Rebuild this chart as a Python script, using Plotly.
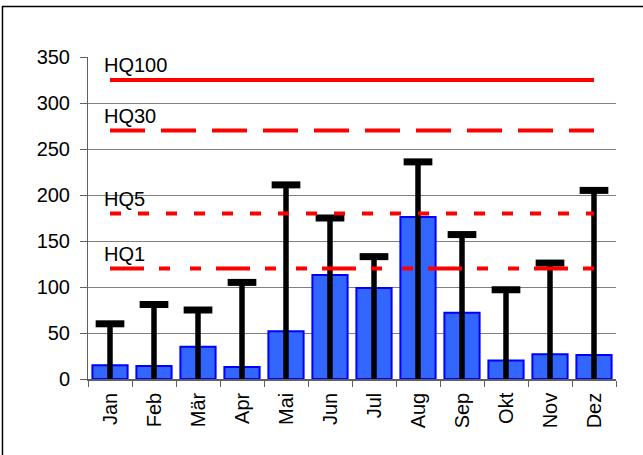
import plotly.graph_objects as go

months = ["Jan", "Feb", "Mär", "Apr", "Mai", "Jun", "Jul", "Aug", "Sep", "Okt", "Nov", "Dez"]
mean_values = [15, 14, 35, 13, 52, 113, 99, 176, 72, 20, 27, 26]
max_values = [60, 81, 75, 105, 211, 175, 133, 236, 157, 97, 126, 205]
hq_labels = ["HQ100", "HQ30", "HQ5", "HQ1"]
hq_values = [325, 270, 180, 120]
hq_dashes = ["solid", "35px,16px", "11px,17px", "34px,15px,11px,20px,11px,15px"]

FONT = "Liberation Sans, Arial, sans-serif"

fig = go.Figure()

fig.add_trace(go.Bar(
    x=months, y=mean_values,
    marker=dict(color="#3366FF", line=dict(color="#0000FF", width=2)),
    error_y=dict(type="data", symmetric=False,
                 array=[m - v for m, v in zip(max_values, mean_values)],
                 arrayminus=mean_values,
                 width=0, thickness=5.5, color="black"),
    showlegend=False,
))

fig.add_trace(go.Scatter(
    x=months, y=max_values, mode="markers",
    marker=dict(symbol="line-ew", size=20.5, line=dict(color="black", width=7)),
    showlegend=False, hoverinfo="skip",
))

for lab, val, dash in zip(hq_labels, hq_values, hq_dashes):
    fig.add_trace(go.Scatter(
        x=months, y=[val] * len(months), mode="lines",
        line=dict(color="#FF0000", width=4, dash=dash),
        showlegend=False, name=lab,
    ))
    fig.add_annotation(
        x=0.026, xref="paper", y=val + 16, yref="y",
        text=lab, showarrow=False, xanchor="left", yanchor="middle",
        font=dict(family=FONT, size=20, color="black"),
    )

fig.add_shape(type="rect", xref="paper", yref="paper",
              x0=-0.162, x1=1.2, y0=-0.4, y1=1.157,
              line=dict(color="black", width=1.5), fillcolor="rgba(0,0,0,0)",
              layer="below")

fig.update_layout(
    width=643, height=455,
    margin=dict(l=88, r=27, t=57, b=76),
    paper_bgcolor="white", plot_bgcolor="white",
    bargap=0.2,
    font=dict(family=FONT, size=20, color="black"),
    xaxis=dict(
        tickangle=-90, showgrid=False, showline=True, linecolor="#606060", linewidth=1.5,
        ticks="outside", tickson="boundaries", ticklen=6, tickcolor="#606060",
        tickfont=dict(family=FONT, size=20, color="black"),
        ticklabelstandoff=4,
        range=[-0.5, 11.5],
    ),
    yaxis=dict(
        range=[0, 350], tickvals=[0, 50, 100, 150, 200, 250, 300, 350],
        showgrid=True, gridcolor="#808080", gridwidth=1,
        showline=True, linecolor="#606060", linewidth=1,
        ticks="outside", ticklen=7, tickcolor="#606060",
        tickfont=dict(family=FONT, size=20, color="black"),
        ticklabelstandoff=6, zeroline=False,
    ),
)

fig.write_html("out.html", config={"displayModeBar": False},
               post_script="document.body.style.margin='0';document.body.style.overflow='hidden';")
